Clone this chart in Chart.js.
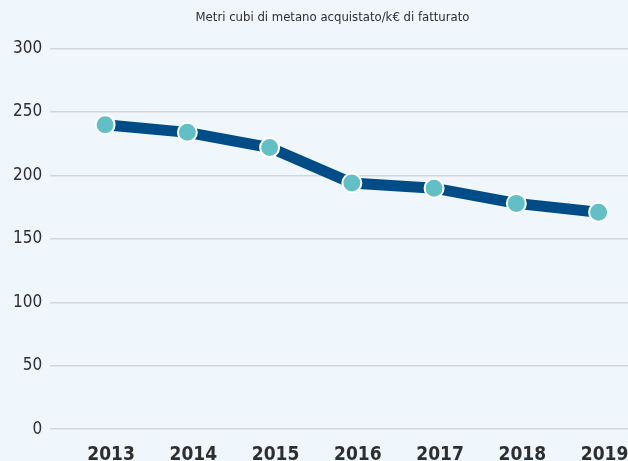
<!DOCTYPE html>
<html>
<head>
<meta charset="utf-8">
<script src="https://cdn.jsdelivr.net/npm/chart.js@4"></script>
<style>
    html, body { margin: 0; padding: 0; overflow: hidden; background: #eff7fd; }
    #box { width: 660px; height: 480px; position: relative; }
</style>
</head>
<body>
<div id="box"><canvas id="graficoMetano"></canvas></div>
<script>
const anni = ['2013', '2014', '2015', '2016', '2017', '2018', '2019'];
const valoriMetano = [240, 234, 222, 194, 190, 178, 171];
const tickY = [0, 50, 100, 150, 200, 250, 300];

const colori = {
    sfondo: '#eff7fd',
    linea: '#004c86',
    punto: '#62bfc6',
    griglia: '#d3d6d9',
    testo: '#2e2e2e'
};

const fontStretto = "'Liberation Sans Narrow', 'DejaVu Sans Condensed', 'Roboto', sans-serif";

const ctx = document.getElementById('graficoMetano');
new Chart(ctx, {
    type: 'line',
    data: {
        datasets: [{
            label: 'Metri cubi di metano acquistato/k€ di fatturato',
            data: valoriMetano.map((v, i) => ({ x: i, y: v })),
            borderColor: colori.linea,
            borderWidth: 11,
            backgroundColor: colori.punto,
            pointBackgroundColor: colori.punto,
            pointBorderColor: '#ffffff',
            pointBorderWidth: 2,
            pointRadius: 9.5,
            tension: 0,
            fill: false
        }]
    },
    options: {
        responsive: true,
        maintainAspectRatio: false,
        animation: false,
        layout: {
            padding: { top: 6, left: 5, right: 0, bottom: 0 }
        },
        plugins: {
            legend: { display: false },
            tooltip: { enabled: false },
            title: {
                display: true,
                text: 'Metri cubi di metano acquistato/k€ di fatturato',
                color: colori.testo,
                font: { family: fontStretto, size: 13, weight: 'normal' },
                padding: { top: 4, bottom: 23 }
            }
        },
        scales: {
            x: {
                type: 'linear',
                min: -0.668,
                max: 6.607,
                grid: { display: false, drawTicks: false },
                border: { display: false },
                afterBuildTicks: (axis) => {
                    axis.ticks = anni.map((a, i) => ({ value: i }));
                },
                ticks: {
                    color: colori.testo,
                    font: { family: fontStretto, size: 19, weight: 'bold' },
                    padding: 14,
                    labelOffset: 6,
                    maxRotation: 0,
                    autoSkip: false,
                    callback: (v) => anni[v]
                }
            },
            y: {
                min: 0,
                max: 300,
                afterBuildTicks: (axis) => {
                    axis.ticks = tickY.map(v => ({ value: v }));
                },
                grid: { color: colori.griglia, lineWidth: 1.5, drawTicks: false },
                border: { display: false },
                ticks: {
                    color: colori.testo,
                    font: { family: fontStretto, size: 17 },
                    padding: 8
                }
            }
        }
    }
});
</script>
</body>
</html>
